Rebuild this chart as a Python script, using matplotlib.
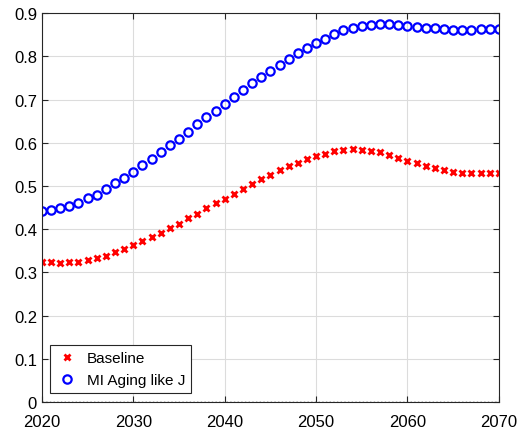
import matplotlib
matplotlib.use("Agg")
import matplotlib.pyplot as plt
import numpy as np

plt.rcParams['font.family'] = ['Liberation Sans', 'DejaVu Sans']

years = np.arange(2020, 2071)
baseline = [0.325, 0.323, 0.322, 0.323, 0.325, 0.329, 0.334, 0.339, 0.346, 0.355,
            0.363, 0.372, 0.382, 0.392, 0.403, 0.413, 0.425, 0.436, 0.448, 0.460,
            0.470, 0.482, 0.494, 0.504, 0.515, 0.526, 0.537, 0.546, 0.554, 0.562,
            0.569, 0.575, 0.580, 0.584, 0.585, 0.584, 0.582, 0.578, 0.572, 0.565,
            0.558, 0.552, 0.547, 0.541, 0.537, 0.533, 0.531, 0.529, 0.529, 0.529,
            0.530]
mi_aging = [0.441, 0.444, 0.449, 0.454, 0.461, 0.471, 0.480, 0.493, 0.506, 0.518,
            0.533, 0.548, 0.562, 0.579, 0.595, 0.609, 0.625, 0.643, 0.659, 0.673,
            0.690, 0.705, 0.722, 0.738, 0.752, 0.766, 0.780, 0.794, 0.808, 0.819,
            0.831, 0.841, 0.851, 0.860, 0.866, 0.871, 0.873, 0.874, 0.874, 0.872,
            0.870, 0.868, 0.866, 0.865, 0.864, 0.862, 0.862, 0.862, 0.863, 0.864,
            0.864]

fig = plt.figure(figsize=(5.24, 4.35), dpi=100)
ax = fig.add_axes([0.080, 0.0736, 0.872, 0.894])

ax.plot(years, baseline, 'x', color='red', markersize=4.5, mew=2, label='Baseline')
ax.plot(years, mi_aging, 'o', color='blue', markerfacecolor='none', markersize=6,
        mew=1.6, label='MI Aging like J')
ax.plot(years, np.zeros(len(years)), ':', color='black', lw=1)

ax.set_xlim(2020, 2070)
ax.set_ylim(0, 0.9)
ax.set_xticks(np.arange(2020, 2071, 10))
ax.set_yticks(np.arange(0, 0.91, 0.1))
ax.set_yticklabels(['0', '0.1', '0.2', '0.3', '0.4', '0.5', '0.6', '0.7', '0.8', '0.9'])
ax.grid(True, color='#dcdcdc', lw=0.8)
ax.set_axisbelow(True)
ax.tick_params(direction='in', top=True, right=True, labelsize=12, length=4, color='#262626')
ax.tick_params(axis='x', pad=9)
for s in ax.spines.values():
    s.set_color('#262626')
    s.set_linewidth(0.8)

leg = ax.legend(loc='lower left', bbox_to_anchor=(0.0175, 0.023), borderaxespad=0,
                fontsize=11, fancybox=False, framealpha=1, edgecolor='#262626',
                handlelength=1.5, handletextpad=0.5, borderpad=0.4, labelspacing=0.5)
leg.get_frame().set_linewidth(0.8)

fig.savefig("out.png", dpi=100)
